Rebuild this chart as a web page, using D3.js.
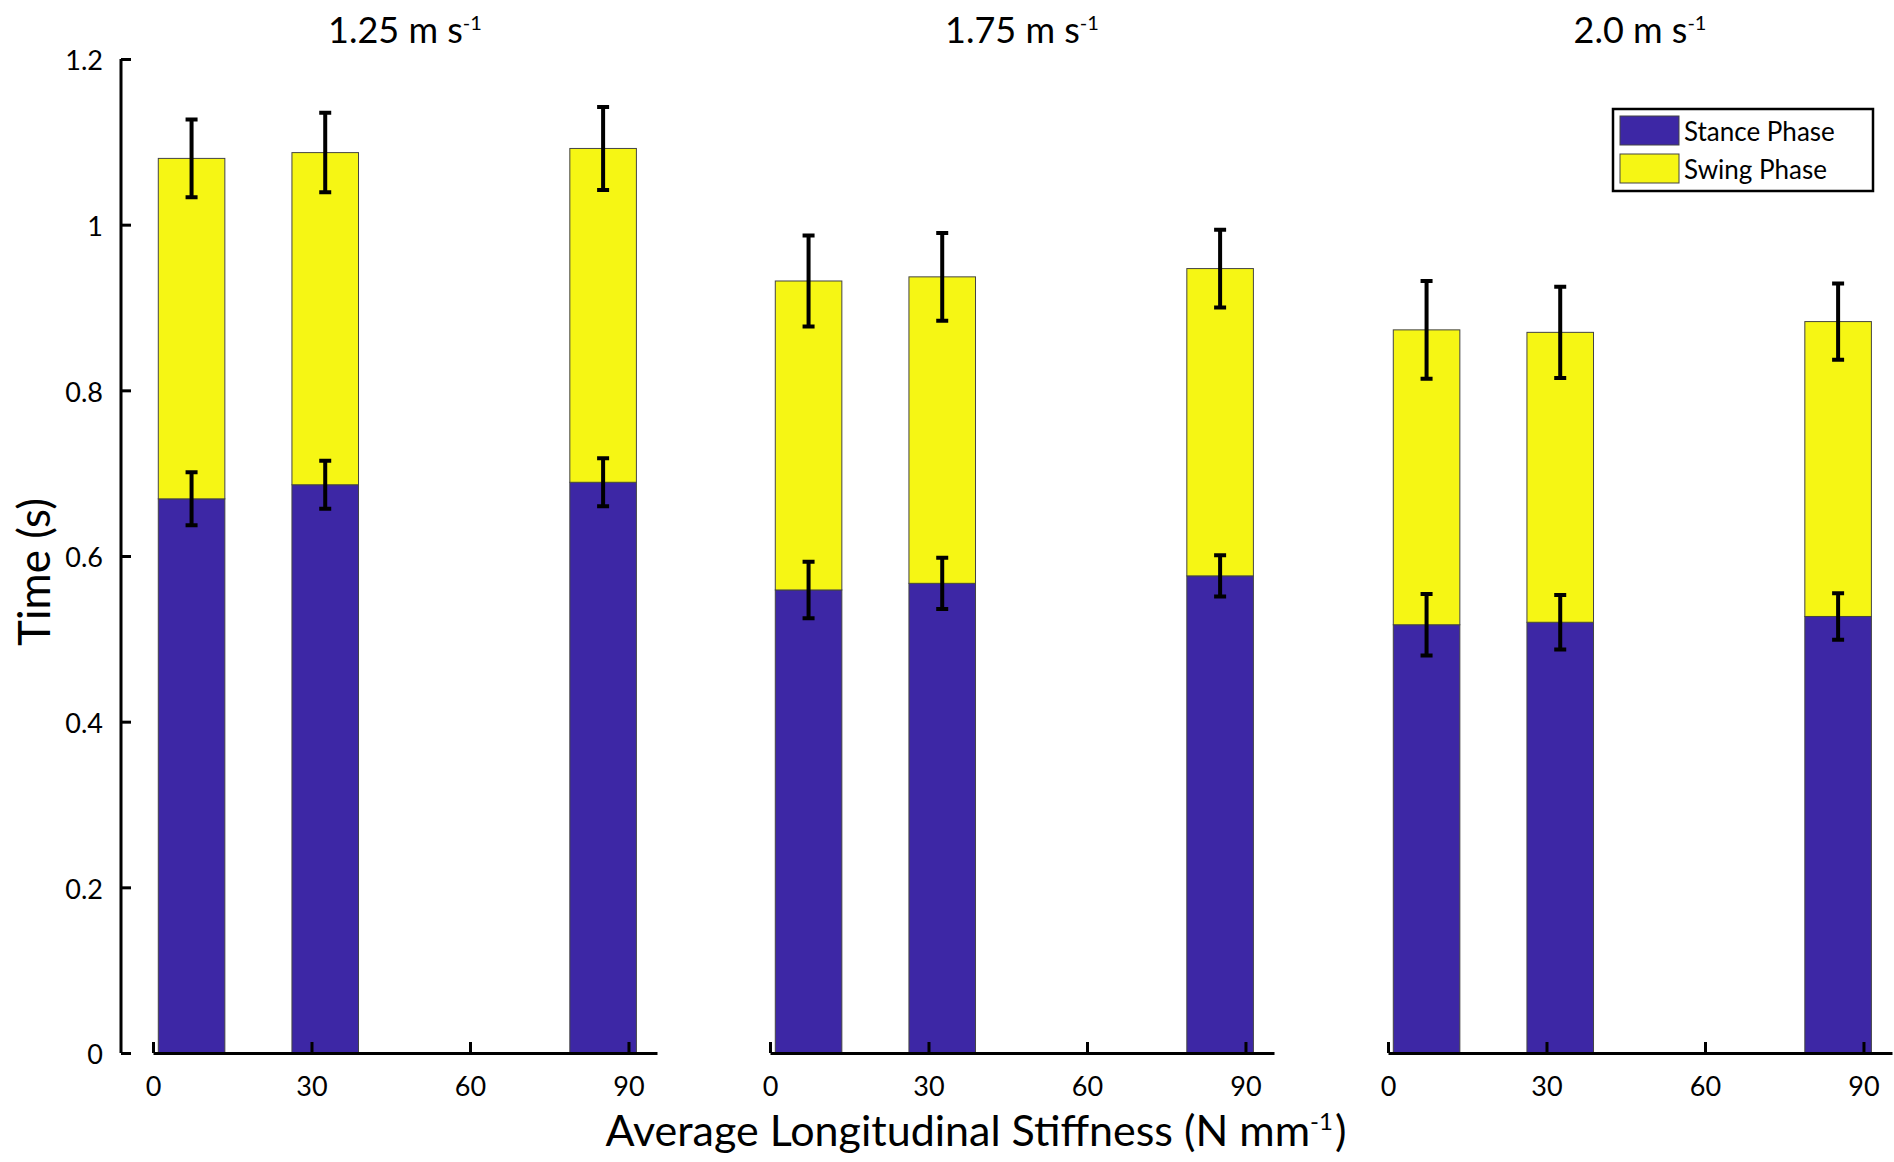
<!DOCTYPE html>
<html>
<head>
<meta charset="utf-8">
<script src="https://cdn.jsdelivr.net/npm/d3@7"></script>
<style>
  body { margin: 0; background: #fff; }
  text { font-family: Lato, "Open Sans", sans-serif; fill: #000; }
</style>
</head>
<body>
<script>
// speeds (one panel each), stiffness positions and phase durations
var speeds = ["1.25", "1.75", "2.0"];
var stiffness = [7.3, 32.6, 85.2];
var stance = [
  [0.669, 0.686, 0.689],
  [0.559, 0.567, 0.576],
  [0.517, 0.520, 0.527]
];
var stanceErr = [
  [0.032, 0.029, 0.029],
  [0.034, 0.031, 0.025],
  [0.037, 0.033, 0.028]
];
var swing = [
  [0.411, 0.401, 0.403],
  [0.373, 0.370, 0.371],
  [0.356, 0.350, 0.356]
];
var totalErr = [
  [0.047, 0.048, 0.050],
  [0.055, 0.053, 0.047],
  [0.059, 0.055, 0.046]
];
var xTicks = [0, 30, 60, 90];
var yTicks = [0, 0.2, 0.4, 0.6, 0.8, 1, 1.2];
var seriesNames = ["Stance Phase", "Swing Phase"];
var colors = ["#3d27a5", "#f6f614"];

var width = 1894,
    height = 1162,
    panelX = [153, 770, 1388],
    panelW = 504,
    barW = 12.6;

var svg = d3.select("body").append("svg")
    .attr("width", width)
    .attr("height", height);

var y = d3.scaleLinear().domain([0, 1.2]).range([1053, 59]);

// y axis, only on the first panel
var yAxis = svg.append("g")
    .attr("transform", "translate(121,0)")
    .call(d3.axisRight(y).tickValues(yTicks).tickSize(10).tickFormat(d3.format("~g")));
yAxis.select(".domain").attr("stroke", "#000").attr("stroke-width", 3)
    .attr("d", "M0," + y(0) + "V" + y(1.2));
yAxis.selectAll(".tick line").attr("stroke", "#000").attr("stroke-width", 3);
yAxis.selectAll(".tick text")
    .attr("x", -18).attr("dy", "0.4em")
    .attr("text-anchor", "end")
    .style("font-size", "27px");

svg.append("text")
    .attr("transform", "translate(50,572) rotate(-90)")
    .attr("text-anchor", "middle")
    .style("font-size", "44px")
    .text("Time (s)");

speeds.forEach(function(sp, p) {
  var x = d3.scaleLinear().domain([0, 95.4]).range([panelX[p], panelX[p] + panelW]);
  var g = svg.append("g");

  var rows = stiffness.map(function(s, i) {
    return {s: s, st: stance[p][i], sw: swing[p][i], se: stanceErr[p][i], te: totalErr[p][i]};
  });

  // stance bars
  g.selectAll(".stance").data(rows).enter().append("rect")
      .attr("x", function(d) { return x(d.s - barW / 2); })
      .attr("width", function(d) { return x(d.s + barW / 2) - x(d.s - barW / 2); })
      .attr("y", function(d) { return y(d.st); })
      .attr("height", function(d) { return y(0) - y(d.st); })
      .attr("fill", colors[0])
      .attr("stroke", "#444").attr("stroke-width", 1);

  // swing bars stacked on top
  g.selectAll(".swing").data(rows).enter().append("rect")
      .attr("x", function(d) { return x(d.s - barW / 2); })
      .attr("width", function(d) { return x(d.s + barW / 2) - x(d.s - barW / 2); })
      .attr("y", function(d) { return y(d.st + d.sw); })
      .attr("height", function(d) { return y(d.st) - y(d.st + d.sw); })
      .attr("fill", colors[1])
      .attr("stroke", "#444").attr("stroke-width", 1);

  // error bars
  var errs = [];
  rows.forEach(function(d) {
    errs.push({s: d.s, v: d.st, e: d.se});
    errs.push({s: d.s, v: d.st + d.sw, e: d.te});
  });
  g.selectAll(".err").data(errs).enter().append("path")
      .attr("fill", "none")
      .attr("stroke", "#000")
      .attr("stroke-width", 4)
      .attr("d", function(d) {
        var cx = x(d.s), t = y(d.v + d.e), b = y(d.v - d.e);
        return "M" + (cx - 6) + "," + t + "H" + (cx + 6) +
               "M" + cx + "," + t + "V" + b +
               "M" + (cx - 6) + "," + b + "H" + (cx + 6);
      });

  // x axis
  var xAxis = g.append("g")
      .attr("transform", "translate(0," + y(0) + ")")
      .call(d3.axisBottom(x).tickValues(xTicks).tickSize(-11).tickSizeOuter(0));
  xAxis.select(".domain").attr("stroke", "#000").attr("stroke-width", 3);
  xAxis.selectAll(".tick line").attr("stroke", "#000").attr("stroke-width", 3);
  xAxis.selectAll(".tick text")
      .attr("y", 24).attr("dy", "0.71em")
      .style("font-size", "27px");

  // panel title
  var t = g.append("text")
      .attr("x", panelX[p] + panelW / 2)
      .attr("y", 43)
      .attr("text-anchor", "middle")
      .style("font-size", "36px");
  t.append("tspan").text(sp + " m s");
  t.append("tspan").attr("dy", -13).style("font-size", "20px").text("-1");
});

// x axis label
var xl = svg.append("text")
    .attr("x", 976)
    .attr("y", 1146)
    .attr("text-anchor", "middle")
    .style("font-size", "43px");
xl.append("tspan").text("Average Longitudinal Stiffness (N mm");
xl.append("tspan").attr("dy", -16).style("font-size", "24px").text("-1");
xl.append("tspan").attr("dy", 16).attr("dx", 2).text(")");

// legend
var leg = svg.append("g");
leg.append("rect")
    .attr("x", 1613).attr("y", 109)
    .attr("width", 260).attr("height", 82)
    .attr("fill", "#fff").attr("stroke", "#000").attr("stroke-width", 2.5);
var li = leg.selectAll(".li").data(seriesNames).enter().append("g")
    .attr("transform", function(d, i) { return "translate(1620," + (116 + i * 38) + ")"; });
li.append("rect")
    .attr("width", 59).attr("height", 29)
    .attr("fill", function(d, i) { return colors[i]; })
    .attr("stroke", "#444").attr("stroke-width", 1);
li.append("text")
    .attr("x", 64).attr("y", 25)
    .style("font-size", "26px")
    .text(function(d) { return d; });
</script>
</body>
</html>
